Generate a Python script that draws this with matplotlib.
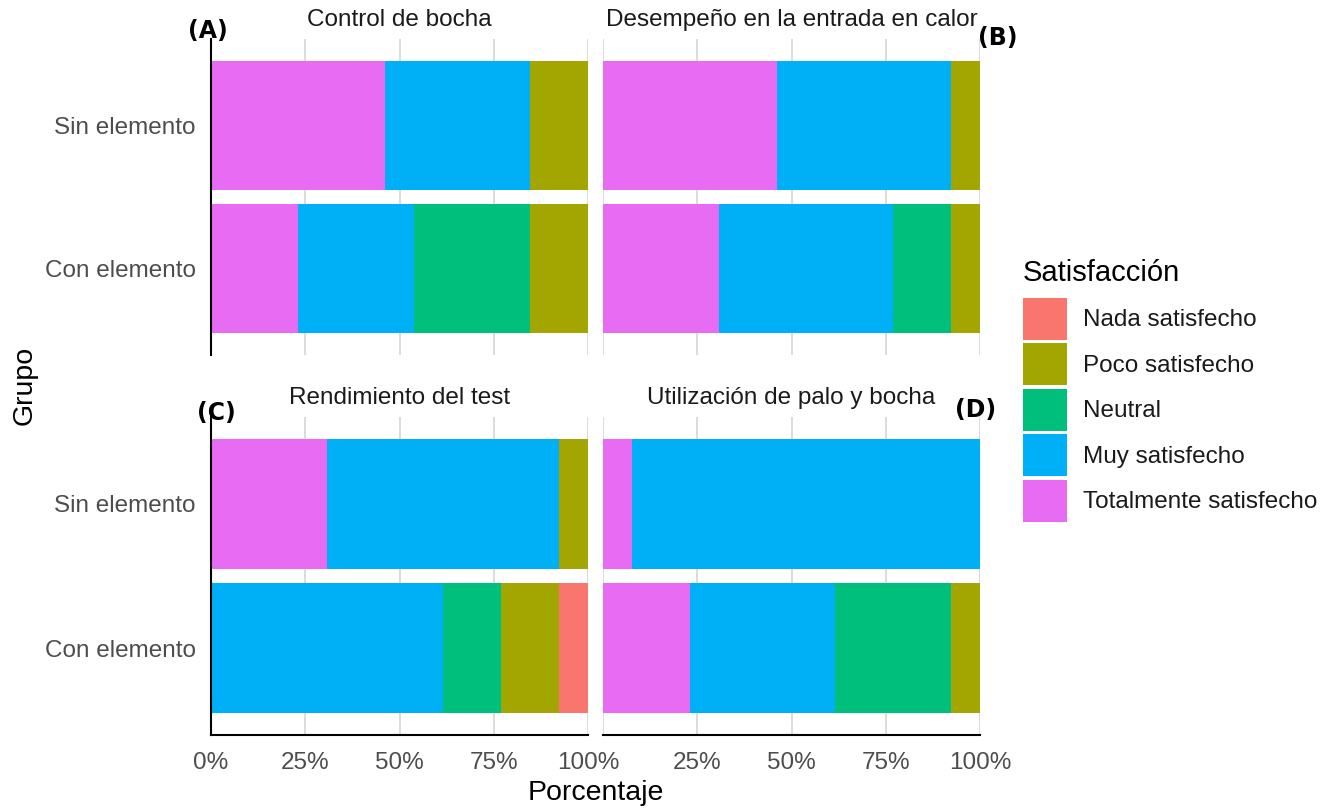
import numpy as np
import matplotlib
matplotlib.use("Agg")
import matplotlib.pyplot as plt
from matplotlib.patches import Patch

plt.rcParams['font.family'] = ['Liberation Sans', 'DejaVu Sans']

# categories
groups = ["Con elemento", "Sin elemento"]
levels = ["Nada satisfecho", "Poco satisfecho", "Neutral",
          "Muy satisfecho", "Totalmente satisfecho"]
colors = ["#F8766D", "#A3A500", "#00BF7D", "#00B0F6", "#E76BF3"]
panels = ["Control de bocha", "Desempeño en la entrada en calor",
          "Rendimiento del test", "Utilización de palo y bocha"]
tags = ["(A)", "(B)", "(C)", "(D)"]
xticks = [0, 25, 50, 75, 100]
xlabels = ["0%", "25%", "50%", "75%", "100%"]

# answer counts per level (Nada .. Totalmente), one list per group
control_con = [0, 2, 4, 4, 3]
control_sin = [0, 2, 0, 5, 6]
entrada_con = [0, 1, 2, 6, 4]
entrada_sin = [0, 1, 0, 6, 6]
test_con = [1, 2, 2, 8, 0]
test_sin = [0, 1, 0, 8, 4]
palo_con = [0, 1, 4, 5, 3]
palo_sin = [0, 0, 0, 12, 1]

counts = [
    [control_con, control_sin],
    [entrada_con, entrada_sin],
    [test_con, test_sin],
    [palo_con, palo_sin],
]

W, H = 1343, 810
fig = plt.figure(figsize=(W / 100, H / 100), dpi=100)


def px_rect(x0, y0, x1, y1):
    return [x0 / W, 1 - y1 / H, (x1 - x0) / W, (y1 - y0) / H]


rects = [px_rect(211, 39, 588, 355), px_rect(603, 39, 980, 355),
         px_rect(211, 417, 588, 735), px_rect(603, 417, 980, 735)]
tag_pos = [(207.5, 31), (998, 38), (216, 413), (976, 410)]

ypos = np.arange(1, len(groups) + 1)
for i, (title, data) in enumerate(zip(panels, counts)):
    ax = fig.add_axes(rects[i])
    for g, row in enumerate(data):
        row = np.array(row, dtype=float)
        pct = row / row.sum() * 100
        left = 0.0
        # first level sits on the right end of the stack
        for k in reversed(range(len(levels))):
            if pct[k] > 0:
                ax.barh(ypos[g], pct[k], left=left, height=0.9,
                        color=colors[k], edgecolor='none', zorder=2)
            left += pct[k]
    ax.set_xlim(0, 100)
    ax.set_ylim(0.4, 2.6)
    ax.set_xticks(xticks)
    ax.set_yticks(ypos)
    ax.set_yticklabels(groups)
    ax.grid(axis='x', color='#d9d9d9', lw=1.3, zorder=0)
    ax.tick_params(length=0, labelsize=17.5, labelcolor='#4d4d4d')
    ax.tick_params(axis='x', pad=12)
    ax.tick_params(axis='y', pad=11)
    for s in ax.spines.values():
        s.set_visible(False)
    left_col = i % 2 == 0
    bottom_row = i >= 2
    if left_col:
        ax.spines['left'].set_visible(True)
        ax.spines['left'].set_linewidth(1.5)
    else:
        ax.set_yticklabels([])
    if bottom_row:
        ax.spines['bottom'].set_visible(True)
        ax.spines['bottom'].set_linewidth(1.5)
        # the right panel's 0% sits under the left panel's 100%
        ax.set_xticklabels(xlabels if left_col else [""] + xlabels[1:])
    else:
        ax.set_xticklabels([])
    ax.annotate(title, xy=(0.5, 1), xycoords='axes fraction',
                xytext=(0, 14), textcoords='offset points',
                ha='center', va='center', fontsize=17.5, color='#1a1a1a')
    tx, ty = tag_pos[i]
    fig.text(tx / W, 1 - ty / H, tags[i], ha='center', va='center',
             fontsize=17, fontweight='bold', family='DejaVu Sans')

fig.text(595.5 / W, 1 - 793 / H, "Porcentaje", ha='center', va='center',
         fontsize=20.5)
fig.text(25 / W, 1 - 385 / H, "Grupo", ha='center', va='center',
         fontsize=20.5, rotation=90)

handles = [Patch(facecolor=c, edgecolor='none') for c in colors]
leg = fig.legend(handles, levels, loc='upper left',
                 bbox_to_anchor=(1023 / W, 1 - 259 / H),
                 frameon=False, fontsize=17.5, title="Satisfacción",
                 title_fontsize=21, alignment='left',
                 handlelength=1.81, handleheight=2.285, labelspacing=0.145,
                 handletextpad=0.66, borderpad=0, borderaxespad=0)
leg._legend_box.sep = 7.6
for t in leg.get_texts():
    t.set_color('#1a1a1a')

fig.savefig("out.png", dpi=100)
